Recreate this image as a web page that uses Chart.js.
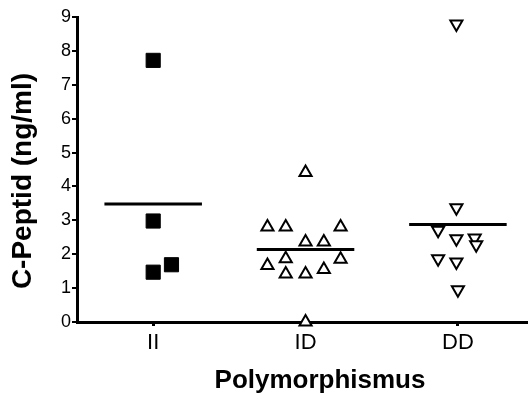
<!DOCTYPE html>
<html><head><meta charset="utf-8">
<script src="https://cdn.jsdelivr.net/npm/chart.js@4.4.1/dist/chart.umd.min.js"></script>
<style>html,body{margin:0;padding:0;background:#fff}#wrap{width:528px;height:394px}</style>
</head><body><div id="wrap"><canvas id="c" width="528" height="394"></canvas></div>
<script>
const categories = ["II", "ID", "DD"];
const yTicks = [0,1,2,3,4,5,6,7,8,9];
const xTitle = "Polymorphismus";
const yTitle = "C-Peptid (ng/ml)";
// group II (filled squares)
const iiX = [0, 0, 0, 0.12];
const iiY = [7.72, 2.98, 1.47, 1.69];
// group ID (open triangles)
const idX = [0, -0.25, -0.13, 0.23, 0, 0.12, -0.25, -0.13, 0.23, -0.13, 0, 0.12, 0];
const idY = [4.41, 2.80, 2.80, 2.80, 2.36, 2.36, 1.67, 1.87, 1.85, 1.42, 1.42, 1.55, 0.0];
// group DD (open down triangles)
const ddX = [1.99, 1.99, 1.87, 1.99, 2.11, 2.12, 1.87, 1.99, 2.0];
const ddY = [8.79, 3.37, 2.71, 2.46, 2.48, 2.28, 1.87, 1.77, 0.95];
// group means (horizontal bars)
const means = [3.48, 2.14, 2.88];
const meanHalfWidth = 0.32;

function pts(xs, ys, base){ return ys.map((y,i)=>({x: base + xs[i], y})); }
const meanSets = means.map((m,i)=>({
  type:'line', data:[{x:i-meanHalfWidth,y:m},{x:i+meanHalfWidth,y:m}],
  borderColor:'#000', borderWidth:3, pointRadius:0, fill:false, clip:false, order:5
}));

const titlesPlugin = {
  id:'titlesPlugin',
  afterDraw(chart){
    const ctx = chart.ctx;
    ctx.save();
    ctx.fillStyle = '#000';
    ctx.textAlign = 'center';
    ctx.font = 'bold 26px "Liberation Sans", Arial, sans-serif';
    ctx.textBaseline = 'alphabetic';
    ctx.fillText(xTitle, 320, 388);
    ctx.font = 'bold 28px "Liberation Sans", Arial, sans-serif';
    ctx.textBaseline = 'middle';
    ctx.translate(23, 181);
    ctx.rotate(-Math.PI/2);
    ctx.fillText(yTitle, 0, 0);
    ctx.restore();
  }
};

new Chart(document.getElementById('c'), {
  type:'scatter',
  data:{ datasets:[
    ...meanSets,
    {data: pts(iiX, iiY, 0), pointStyle:'rect', pointRadius:10, backgroundColor:'#000', borderColor:'#000', borderWidth:1, clip:false, order:1},
    {data: pts(idX, idY, 1), pointStyle:'triangle', pointRadius:7, backgroundColor:'#fff', borderColor:'#000', borderWidth:2, clip:false, order:1},
    {data: ddY.map((y,i)=>({x: ddX[i], y})), pointStyle:'triangle', rotation:180, pointRadius:7, backgroundColor:'#fff', borderColor:'#000', borderWidth:2, clip:false, order:1}
  ]},
  plugins:[titlesPlugin],
  options:{
    responsive:false, animation:false, devicePixelRatio:1,
    layout:{autoPadding:false, padding:{top:17,right:0,bottom:0,left:0}},
    plugins:{legend:{display:false}, tooltip:{enabled:false}},
    scales:{
      x:{
        type:'linear', min:-0.5, max:2.46,
        afterBuildTicks: ax => { ax.ticks = categories.map((c,i)=>({value:i})); },
        afterFit: ax => { ax.height = 72; },
        ticks:{ callback:(v)=>categories[v], color:'#000', padding:4, maxRotation:0,
          font:{family:'"Liberation Sans", Arial, sans-serif', size:22} },
        grid:{ display:true, drawOnChartArea:false, drawTicks:true, tickLength:4, lineWidth:3, color:'#000' },
        border:{ display:true, color:'#000', width:3 }
      },
      y:{
        min:0, max:9,
        afterBuildTicks: ax => { ax.ticks = yTicks.map(v=>({value:v})); },
        afterFit: ax => { ax.width = 77; },
        ticks:{ color:'#000', padding:1,
          font:{family:'"Liberation Sans", Arial, sans-serif', size:18} },
        grid:{ display:true, drawOnChartArea:false, drawTicks:true, tickLength:5, lineWidth:2, color:'#000' },
        border:{ display:true, color:'#000', width:3 }
      }
    }
  }
});
</script></body></html>
